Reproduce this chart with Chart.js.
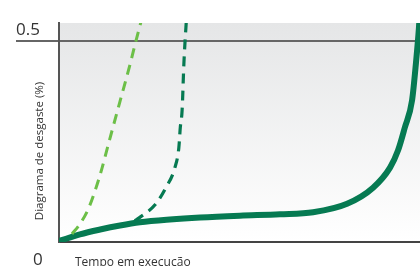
<!DOCTYPE html>
<html lang="pt">
<head>
  <meta charset="UTF-8">
  <title>Diagrama de desgaste</title>
  <script src="https://cdn.jsdelivr.net/npm/chart.js@4.4.1/dist/chart.umd.min.js"></script>
  <style>
    body { margin: 0; background: #fff; }
    #wrap { width: 420px; height: 266px; position: relative; }
  </style>
</head>
<body>
  <div id="wrap"><canvas id="wearChart"></canvas></div>

  <script>
    // tempo (0-100) e desgaste (%)
    const normalTime = [0, 5.8, 11.4, 16.9, 22.4, 30.7, 39.1, 50.1, 61.2, 70.4, 79.8, 87.0, 91.7, 93.9, 95.8, 97.8, 98.9, 99.7, 100];
    const normalWear = [0.0025, 0.019, 0.031, 0.041, 0.049, 0.056, 0.061, 0.0655, 0.069, 0.074, 0.095, 0.135, 0.185, 0.2275, 0.285, 0.3525, 0.4475, 0.5325, 0.5775];

    const darkTime = [21.0, 22.2, 26.6, 29.6, 32.1, 33.2, 33.6, 34.1, 34.6, 35.2, 35.4];
    const darkWear = [0.0525, 0.06, 0.0925, 0.135, 0.185, 0.235, 0.285, 0.3275, 0.445, 0.54, 0.565];

    const lightTime = [3.6, 5.8, 8.0, 9.7, 11.4, 14.1, 16.9, 19.7, 21.3, 22.7];
    const lightWear = [0.02, 0.045, 0.08, 0.12, 0.1675, 0.2575, 0.35, 0.4425, 0.5, 0.5475];

    const yTicks = [0, 0.5];
    const yTickLabels = ['0', '0.5'];
    const xTitle = 'Tempo em execução';
    const yTitle = 'Diagrama de desgaste (%)';

    const pts = (xs, ys) => xs.map((x, i) => ({ x: x, y: ys[i] }));

    const textPlugin = {
      id: 'wearText',
      beforeDraw(chart) {
        const { ctx, chartArea: a } = chart;
        const g = ctx.createLinearGradient(0, a.top, 0, a.bottom);
        g.addColorStop(0, '#e5e6e7');
        g.addColorStop(1, '#ffffff');
        ctx.save();
        ctx.fillStyle = g;
        ctx.fillRect(a.left, a.top, a.right - a.left, a.bottom - a.top);
        ctx.restore();
      },
      afterDraw(chart) {
        const { ctx, scales } = chart;
        const y = scales.y;
        ctx.save();
        ctx.fillStyle = '#333';
        ctx.textAlign = 'left';
        ctx.textBaseline = 'alphabetic';
        ctx.font = '17px "Open Sans"';
        ctx.fillText(yTickLabels[1], 16, y.getPixelForValue(yTicks[1]) - 6);
        ctx.fillText(yTickLabels[0], 33, 265);
        ctx.font = '12px "Open Sans"';
        ctx.fillText(xTitle, 75, 266);
        ctx.translate(40, 151);
        ctx.rotate(-Math.PI / 2);
        ctx.textAlign = 'center';
        ctx.textBaseline = 'middle';
        ctx.font = '11.5px "Open Sans"';
        ctx.fillText(yTitle, 0, 0);
        ctx.restore();
      }
    };

    new Chart(document.getElementById('wearChart'), {
      type: 'line',
      data: {
        datasets: [
          {
            data: pts(lightTime, lightWear),
            borderColor: '#6cbf47',
            borderWidth: 3,
            borderDash: [10, 7]
          },
          {
            data: pts(darkTime, darkWear),
            borderColor: '#067a52',
            borderWidth: 3.2,
            borderDash: [10, 7]
          },
          {
            data: pts(normalTime, normalWear),
            borderColor: '#067a52',
            borderWidth: 6,
            borderCapStyle: 'round'
          }
        ]
      },
      options: {
        responsive: true,
        maintainAspectRatio: false,
        animation: false,
        layout: { padding: { left: 16, right: 0, top: 23, bottom: 16 } },
        elements: { point: { radius: 0 }, line: { cubicInterpolationMode: 'monotone' } },
        plugins: { legend: { display: false }, tooltip: { enabled: false } },
        scales: {
          x: {
            type: 'linear',
            min: 0,
            max: 100,
            ticks: { display: false },
            grid: { display: false },
            border: { color: '#444', width: 2 }
          },
          y: {
            min: 0,
            max: 0.545,
            afterBuildTicks: (s) => { s.ticks = yTicks.map(v => ({ value: v })); },
            ticks: { display: false },
            grid: {
              tickLength: 43,
              lineWidth: 2,
              color: (c) => (c.tick && c.tick.value === 0.5 ? '#666' : 'rgba(0,0,0,0)')
            },
            border: { color: '#555', width: 2 }
          }
        }
      },
      plugins: [textPlugin]
    });
  </script>
</body>
</html>
